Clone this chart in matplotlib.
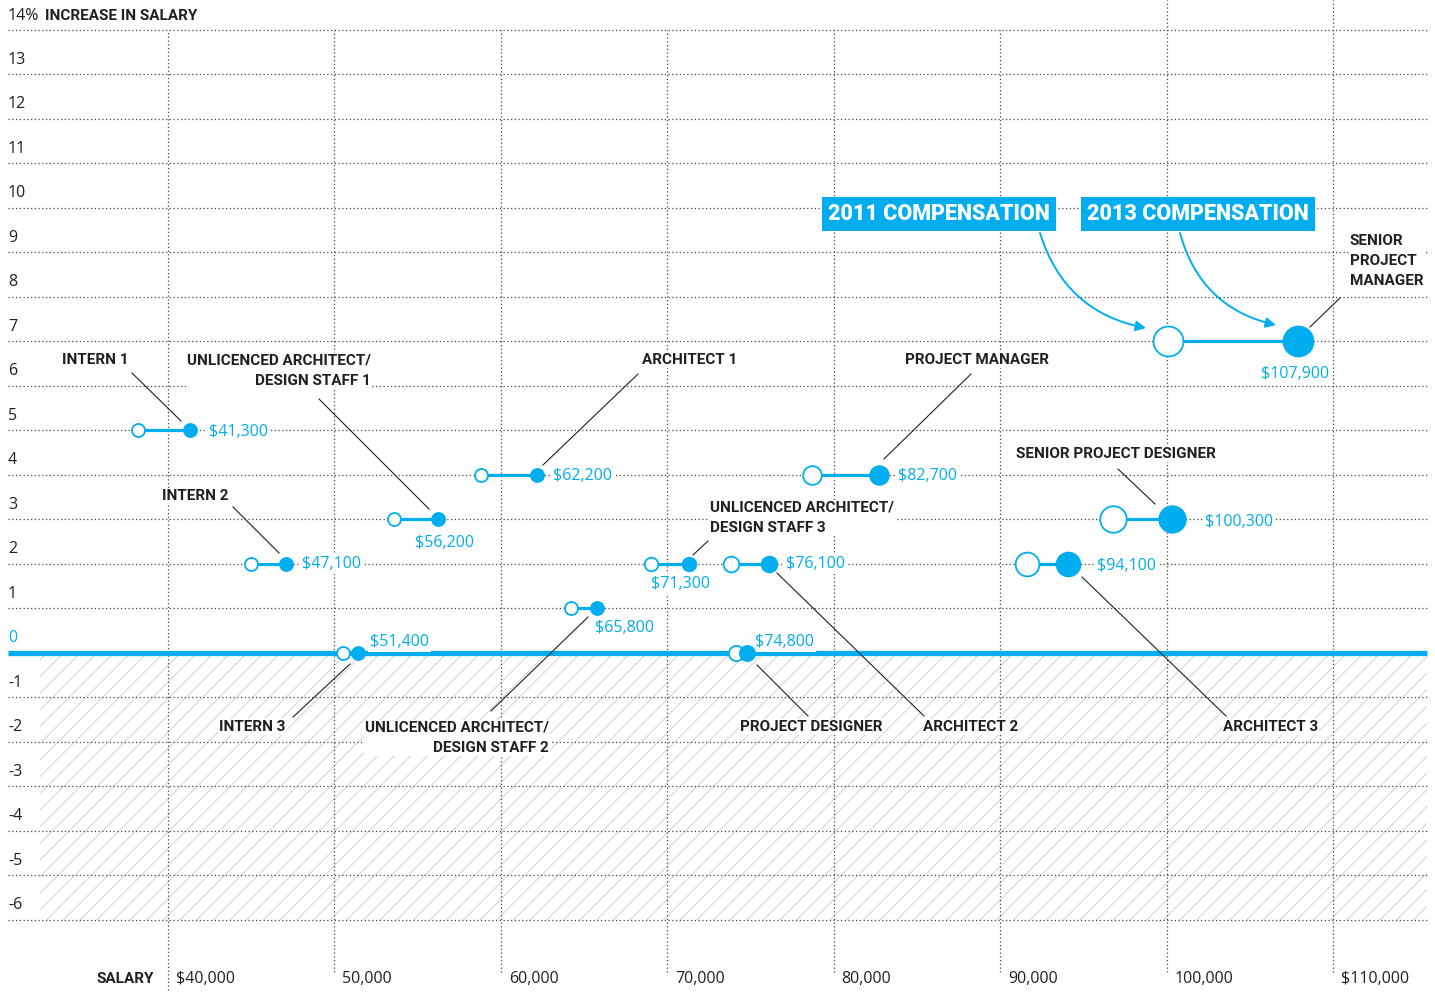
import matplotlib
matplotlib.use("Agg")
import matplotlib.pyplot as plt
from matplotlib.patches import Rectangle

# ---- data ----
roles = [
    "INTERN 1", "INTERN 2", "INTERN 3",
    "UNLICENCED ARCHITECT/\nDESIGN STAFF 1",
    "UNLICENCED ARCHITECT/\nDESIGN STAFF 2",
    "UNLICENCED ARCHITECT/\nDESIGN STAFF 3",
    "ARCHITECT 1", "ARCHITECT 2", "ARCHITECT 3",
    "PROJECT DESIGNER", "PROJECT MANAGER",
    "SENIOR PROJECT DESIGNER", "SENIOR\nPROJECT\nMANAGER",
]
salary_2011 = [38200, 45000, 50500, 53600, 64200, 69000, 58800, 73800, 91600,
               74100, 78700, 96800, 100100]
salary_2013 = [41300, 47100, 51400, 56200, 65800, 71300, 62200, 76100, 94100,
               74800, 82700, 100300, 107900]
pct_increase = [5, 2, 0, 3, 1, 2, 4, 2, 2, 0, 4, 3, 7]

x_ticks = [40000, 50000, 60000, 70000, 80000, 90000, 100000, 110000]
x_tick_labels = ["$40,000", "50,000", "60,000", "70,000", "80,000", "90,000",
                 "100,000", "$110,000"]
y_ticks = list(range(-6, 14))

# ---- layout (reference pixel positions) ----
W, H = 1435, 994
X0, X1 = 29906, 116129
Y0, Y1 = 14.674, -7.663


def P(px, py):
    return X0 + px / W * (X1 - X0), Y0 + py / H * (Y1 - Y0)


# name label: (x, y, ha), leader line (x1, y1, x2, y2)
name_layout = [
    ((95, 360, "center"), (132, 373, 181, 421)),
    ((195, 496, "center"), (233, 507, 279, 553)),
    ((252, 727, "center"), (293, 717, 350, 664)),
    ((371, 371, "right"), (319, 399, 429, 509)),
    ((549, 738, "right"), (491, 711, 588, 617)),
    ((710, 518, "left"), (708, 541, 693, 555)),
    ((690, 360, "center"), (638, 374, 543, 465)),
    ((971, 727, "center"), (924, 716, 777, 573)),
    ((1271, 727, "center"), (1226, 716, 1082, 577)),
    ((811, 727, "center"), (808, 716, 757, 665)),
    ((977, 360, "center"), (971, 374, 884, 459)),
    ((1116, 454, "center"), (1118, 469, 1155, 504)),
    ((1350, 261, "left"), (1340, 298, 1310, 327)),
]
# value label: (x, y, ha)
value_layout = [
    (209, 432, "left"), (302, 564, "left"), (370, 642, "left"),
    (445, 543, "center"), (625, 628, "center"), (681, 584, "center"),
    (553, 476, "left"), (786, 564, "left"), (1097, 566, "left"),
    (755, 642, "left"), (898, 476, "left"), (1205, 522, "left"),
    (1295, 374, "center"),
]

blue = "#00AEEF"
ink = "#231f20"
bold_font = ["Roboto"]
reg_font = ["Open Sans", "DejaVu Sans"]
plt.rcParams["hatch.linewidth"] = 0.8

fig = plt.figure(figsize=(W / 100, H / 100), dpi=100)
ax = fig.add_axes([0, 0, 1, 1])
ax.set_xlim(X0, X1)
ax.set_ylim(Y1, Y0)
ax.axis("off")

x_left, x_right = P(8, 0)[0], P(1427, 0)[0]
grid = dict(color="#444444", lw=0.9, linestyle=(0, (1, 2)), zorder=1)

# hatched negative zone
hx = P(40, 0)[0]
ax.add_patch(Rectangle((hx, -6), x_right - hx, 6, facecolor="white",
                       edgecolor="#d6d6d6", hatch="//", lw=0, zorder=0))

# horizontal grid
for v in range(-6, 15):
    if v != 0:
        ax.hlines(v, x_left, x_right, **grid)
ax.hlines(0, x_left, x_right, color=blue, lw=3.8, zorder=3)

# vertical grid
for s in x_ticks:
    top = 14 if s < 100000 else Y0
    bottom = P(0, 990)[1] if s == 40000 else P(0, 972)[1]
    ax.vlines(s, bottom, top, **grid)

# y tick labels
for v in y_ticks:
    ax.text(x_left, v + 0.33, str(v), ha="left", va="center", fontsize=11.5,
            family=reg_font, color=blue if v == 0 else ink, zorder=5)
ax.text(x_left, P(0, 16)[1], "14%", ha="left", va="center", fontsize=11.5,
        family=reg_font, color=ink)
ax.text(P(45, 0)[0], P(0, 16)[1], "INCREASE IN SALARY", ha="left",
        va="center", fontsize=11, family=bold_font, weight="bold", color=ink)

# x tick labels
xl_y = P(0, 979)[1]
for s, lab in zip(x_ticks, x_tick_labels):
    ax.text(s + 480, xl_y, lab, ha="left", va="center", fontsize=11.5,
            family=reg_font, color=ink)
ax.text(P(154, 0)[0], xl_y, "SALARY", ha="right", va="center", fontsize=11,
        family=bold_font, weight="bold", color=ink)

# dumbbells
for i, role in enumerate(roles):
    s0, s1, y = salary_2011[i], salary_2013[i], pct_increase[i]
    d = 13 + max(0, s1 - 70000) / 38000 * 17
    ax.plot([s0, s1], [y, y], color=blue, lw=2.3, zorder=6,
            solid_capstyle="butt")
    ax.plot(s0, y, "o", ms=d * 0.72, mfc="white", mec=blue, mew=1.3, zorder=7)
    ax.plot(s1, y, "o", ms=d * 0.72, mfc=blue, mec=blue, mew=1.3, zorder=7)

    (tx, ty, ha), (lx1, ly1, lx2, ly2) = name_layout[i]
    ax.plot(*zip(P(lx1, ly1), P(lx2, ly2)), color=ink, lw=0.8, zorder=4)
    ax.text(*P(tx, ty), role, ha=ha, va="center", fontsize=11,
            family=bold_font, weight="bold", color=ink, linespacing=1.55,
            multialignment=ha,
            bbox=dict(boxstyle="square,pad=0.05", fc="white", ec="none"),
            zorder=5)

    vx, vy, vha = value_layout[i]
    ax.text(*P(vx, vy), f"${s1:,}", ha=vha, va="center", fontsize=11.5,
            family=reg_font, color=blue,
            bbox=dict(boxstyle="square,pad=0.1", fc="white", ec="none"),
            zorder=5)

# compensation call-outs
box = dict(boxstyle="square,pad=0.3", fc=blue, ec="none")
for cx, lab in [(939, "2011 COMPENSATION"), (1198, "2013 COMPENSATION")]:
    ax.text(*P(cx, 214), lab, ha="center", va="center", fontsize=15.5,
            family=bold_font, weight="heavy", color="white", bbox=box,
            zorder=8)
arrow = dict(arrowstyle="-|>,head_length=0.6,head_width=0.3", color=blue,
             lw=1.4, connectionstyle="arc3,rad=0.3", shrinkA=0, shrinkB=0)
ax.annotate("", xy=P(1146, 328), xytext=P(1040, 233), arrowprops=arrow,
            zorder=8)
ax.annotate("", xy=P(1276, 325), xytext=P(1180, 233), arrowprops=arrow,
            zorder=8)

fig.savefig("out.png", dpi=100)
